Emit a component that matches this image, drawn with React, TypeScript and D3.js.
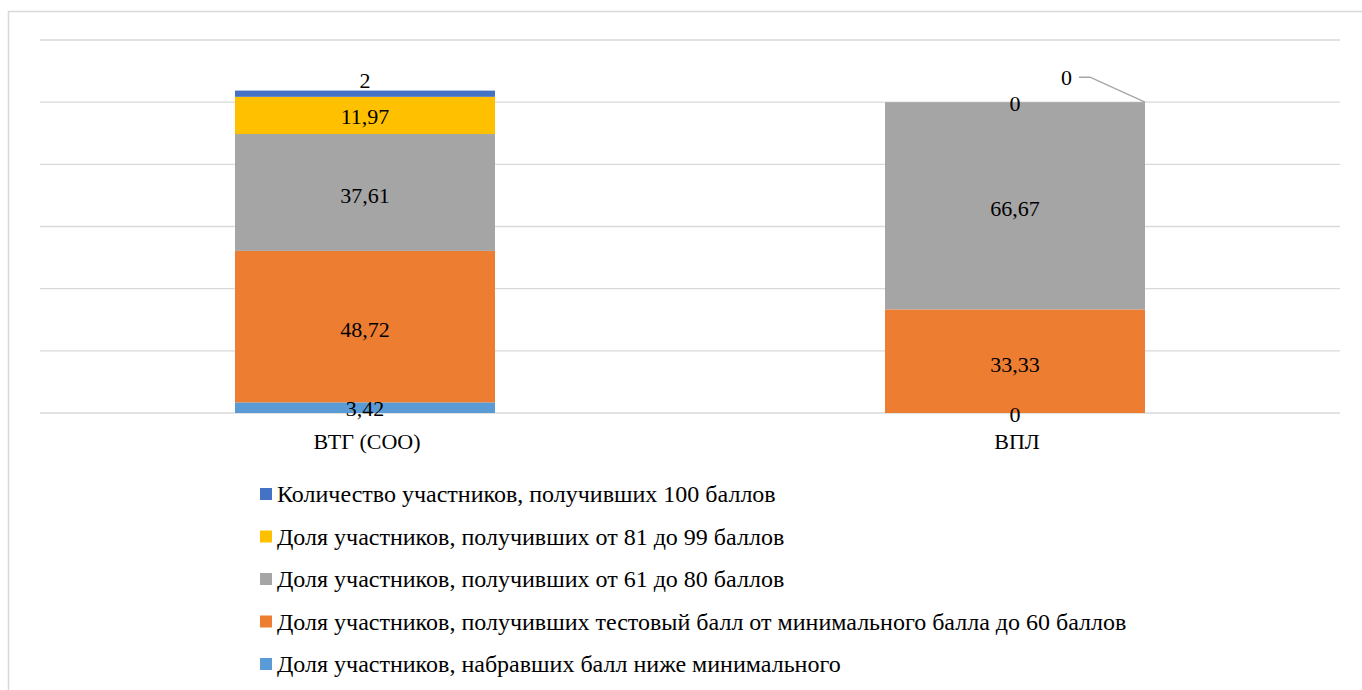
import React from "react";
import * as d3 from "d3";

const categories = ["ВТГ (СОО)", "ВПЛ"];

const seriesNames = [
  "Доля участников, набравших балл ниже минимального",
  "Доля участников, получивших тестовый балл от минимального балла до 60 баллов",
  "Доля участников, получивших от 61 до 80 баллов",
  "Доля участников, получивших от 81 до 99 баллов",
  "Количество участников, получивших 100 баллов",
];

const seriesColors = ["#5B9BD5", "#ED7D31", "#A5A5A5", "#FFC000", "#4472C4"];

// values per series, in category order
const belowMin = [3.42, 0];
const minTo60 = [48.72, 33.33];
const from61to80 = [37.61, 66.67];
const from81to99 = [11.97, 0];
const got100 = [2, 0];

const labelsVtg = ["3,42", "48,72", "37,61", "11,97", "2"];
const labelsVpl = ["0", "33,33", "66,67", "0", "0"];

const yTicks = [0, 20, 40, 60, 80, 100, 120];

const FONT = "Liberation Serif";

const W = 1362;
const H = 690;
const left = 40;
const right = 1340;
const top = 40;
const bottom = 413;

export default function App() {
  const x = d3.scaleBand().domain(categories).range([left, right]).paddingInner(0.6).paddingOuter(0.3);
  const y = d3.scaleLinear().domain([0, 120]).range([bottom, top]);

  const seriesValues = [belowMin, minTo60, from61to80, from81to99, got100];
  const rows = categories.map((c, i) => {
    const r: any = { cat: c };
    seriesValues.forEach((s, k) => (r["s" + k] = s[i]));
    return r;
  });
  const stacked = d3.stack().keys(seriesValues.map((_, k) => "s" + k))(rows);

  const legendItems = seriesNames.map((n, k) => ({ name: n, color: seriesColors[k] })).reverse();

  const labels: JSX.Element[] = [];
  let callout: JSX.Element | null = null;
  stacked.forEach((layer, k) => {
    layer.forEach((d: any, i) => {
      const cx = x(d.data.cat)! + x.bandwidth() / 2;
      const h = y(d[0]) - y(d[1]);
      let cy = (y(d[0]) + y(d[1])) / 2 + (h > 60 ? 3 : 1);
      const text = i === 0 ? labelsVtg[k] : labelsVpl[k];
      if (i === 0 && k === 4) cy = y(d[1]) - 10;
      if (i === 1 && k === 4) {
        // label moved outside the bar with a leader line
        const ex = x(d.data.cat)! + x.bandwidth();
        const ey = y(d[1]);
        callout = (
          <g key="callout">
            <polyline
              points={`${ex},${ey} ${ex - 55},${ey - 25} ${ex - 66},${ey - 25}`}
              fill="none"
              stroke="#a6a6a6"
              strokeWidth={1.5}
            />
            <text x={ex - 73} y={ey - 25} dy="0.35em" textAnchor="end">
              {text}
            </text>
          </g>
        );
        return;
      }
      labels.push(
        <text key={`l${k}-${i}`} x={cx} y={cy} dy="0.35em" textAnchor="middle">
          {text}
        </text>
      );
    });
  });

  return (
    <svg
      width={W}
      height={H}
      style={{ position: "absolute", left: 0, top: 0, display: "block", fontFamily: FONT }}
    >
      <rect x={8.5} y={11.5} width={W + 20} height={H + 20} fill="#fff" stroke="#d9d9d9" strokeWidth={1.5} />
      {yTicks.map((t) => (
        <line key={t} x1={left} x2={right} y1={y(t)} y2={y(t)} stroke="#d9d9d9" strokeWidth={1.3} />
      ))}
      {stacked.map((layer, k) =>
        layer.map((d: any, i) => (
          <rect
            key={`r${k}-${i}`}
            x={x(d.data.cat)}
            width={x.bandwidth()}
            y={y(d[1])}
            height={y(d[0]) - y(d[1])}
            fill={seriesColors[k]}
          />
        ))
      )}
      <g style={{ fontFamily: FONT, fontSize: 22 }} fill="#000">
        {labels}
        {callout}
      </g>
      <g style={{ fontFamily: FONT, fontSize: 22 }}>
        {categories.map((c) => (
          <text key={c} x={x(c)! + x.bandwidth() / 2 + 2} y={bottom + 28} dy="0.35em" textAnchor="middle">
            {c}
          </text>
        ))}
      </g>
      <g style={{ fontFamily: FONT, fontSize: 24 }}>
        {legendItems.map((d, i) => (
          <g key={d.name} transform={`translate(260, ${494 + i * 42.5})`}>
            <rect x={0} y={-6} width={12} height={12} fill={d.color} />
            <text x={17} y={0} dy="0.35em">
              {d.name}
            </text>
          </g>
        ))}
      </g>
    </svg>
  );
}
